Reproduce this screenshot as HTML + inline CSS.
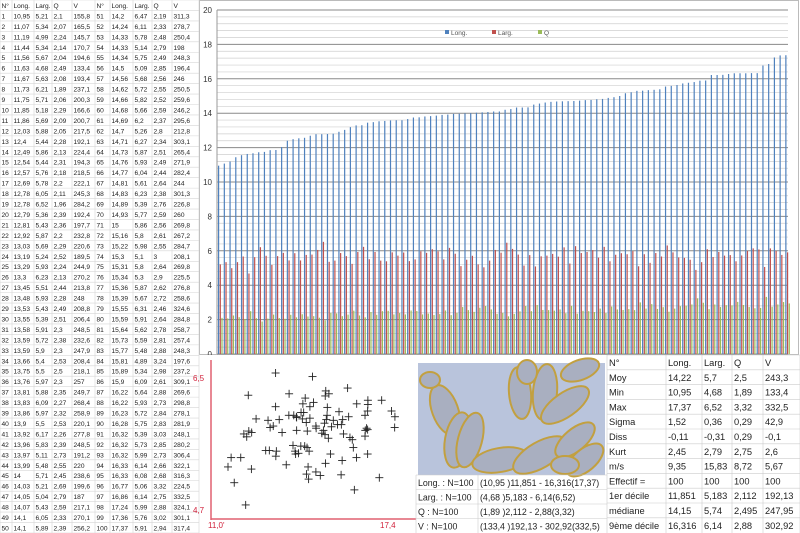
<!DOCTYPE html>
<html><head><meta charset="utf-8">
<style>
html,body{margin:0;padding:0;background:#fff;}
svg{display:block;font-family:"Liberation Sans",sans-serif;}
</style></head>
<body>
<svg id="s" width="800" height="533" viewBox="0 0 800 533" xmlns="http://www.w3.org/2000/svg"></svg>
<script>
const D=`1 10,95 5,21 2,1 155,8|2 11,07 5,34 2,07 165,5|3 11,19 4,99 2,24 145,7|4 11,44 5,34 2,14 170,7|5 11,56 5,67 2,04 194,6|6 11,63 4,68 2,49 133,4|7 11,67 5,63 2,08 193,4|8 11,73 6,21 1,89 237,1|9 11,75 5,71 2,06 200,3|10 11,85 5,18 2,29 166,6|11 11,86 5,69 2,09 200,7|12 12,03 5,88 2,05 217,5|13 12,4 5,44 2,28 192,1|14 12,49 5,86 2,13 224,4|15 12,54 5,44 2,31 194,3|16 12,57 5,76 2,18 218,5|17 12,69 5,78 2,2 222,1|18 12,78 6,05 2,11 245,3|19 12,78 6,52 1,96 284,2|20 12,79 5,36 2,39 192,4|21 12,81 5,43 2,36 197,7|22 12,92 5,87 2,2 232,8|23 13,03 5,69 2,29 220,6|24 13,19 5,24 2,52 189,5|25 13,29 5,93 2,24 244,9|26 13,3 6,23 2,13 270,2|27 13,45 5,51 2,44 213,8|28 13,48 5,93 2,28 248|29 13,53 5,43 2,49 208,8|30 13,55 5,39 2,51 206,4|31 13,58 5,91 2,3 248,5|32 13,59 5,72 2,38 232,6|33 13,59 5,9 2,3 247,9|34 13,66 5,4 2,53 208,4|35 13,75 5,5 2,5 218,1|36 13,76 5,97 2,3 257|37 13,81 5,88 2,35 249,7|38 13,83 6,09 2,27 268,4|39 13,86 5,97 2,32 258,9|40 13,9 5,5 2,53 220,1|41 13,92 6,17 2,26 277,8|42 13,96 5,83 2,39 248,5|43 13,97 5,11 2,73 191,2|44 13,99 5,48 2,55 220|45 14 5,71 2,45 238,6|46 14,03 5,21 2,69 199,6|47 14,05 5,04 2,79 187|48 14,07 5,43 2,59 217,1|49 14,1 6,05 2,33 270,1|50 14,1 5,89 2,39 256,2|51 14,2 6,47 2,19 311,3|52 14,24 6,11 2,33 278,7|53 14,33 5,78 2,48 250,4|54 14,33 5,14 2,79 198|55 14,34 5,75 2,49 248,3|56 14,5 5,09 2,85 196,4|57 14,56 5,68 2,56 246|58 14,62 5,72 2,55 250,5|59 14,66 5,82 2,52 259,6|60 14,68 5,66 2,59 246,2|61 14,69 6,2 2,37 295,6|62 14,7 5,26 2,8 212,8|63 14,71 6,27 2,34 303,1|64 14,73 5,87 2,51 265,4|65 14,76 5,93 2,49 271,9|66 14,77 6,04 2,44 282,4|67 14,81 5,61 2,64 244|68 14,83 6,23 2,38 301,3|69 14,89 5,39 2,76 226,8|70 14,93 5,77 2,59 260|71 15 5,86 2,56 269,8|72 15,16 5,8 2,61 267,2|73 15,22 5,98 2,55 284,7|74 15,3 5,1 3 208,1|75 15,31 5,8 2,64 269,8|76 15,34 5,3 2,9 225,5|77 15,36 5,87 2,62 276,8|78 15,39 5,67 2,72 258,6|79 15,55 6,31 2,46 324,6|80 15,59 5,91 2,64 284,8|81 15,64 5,62 2,78 258,7|82 15,73 5,59 2,81 257,4|83 15,77 5,48 2,88 248,3|84 15,81 4,89 3,24 197,6|85 15,89 5,34 2,98 237,2|86 15,9 6,09 2,61 309,1|87 16,22 5,64 2,88 269,6|88 16,22 5,93 2,73 298,8|89 16,23 5,72 2,84 278,1|90 16,28 5,75 2,83 281,9|91 16,32 5,39 3,03 248,1|92 16,32 5,73 2,85 280,2|93 16,32 5,99 2,73 306,4|94 16,33 6,14 2,66 322,1|95 16,33 6,08 2,68 316,3|96 16,77 5,06 3,32 224,5|97 16,86 6,14 2,75 332,5|98 17,24 5,99 2,88 324,1|99 17,36 5,76 3,02 301,1|100 17,37 5,91 2,94 317,4`;
const R=D.split('|').map(r=>r.split(' '));
const num=s=>parseFloat(s.replace(',','.'));
let h='';
const T=(x,y,t,sz,fill,anc)=>h+=`<text x="${x}" y="${y}" font-size="${sz}" fill="${fill||'#222'}"${anc?` text-anchor="${anc}"`:''}>${t}</text>`;
const L=(x1,y1,x2,y2,c,w)=>h+=`<line x1="${x1}" y1="${y1}" x2="${x2}" y2="${y2}" stroke="${c}" stroke-width="${w||1}"/>`;
// chart
h+=`<rect x="199.5" y="0.5" width="599" height="354" fill="#fff" stroke="#bbb"/>`;
const y0=354,k=17.2;
for(let i=0;i<=50;i++){const v=i*0.4,y=y0-v*k;const maj=Math.abs(v-Math.round(v))<1e-6&&Math.round(v)%2==0;L(217,y,788,y,maj?'#8a8a8a':'#cfcfcf',maj?1:0.7);}
for(let v=0;v<=20;v+=2)T(212,y0-v*k+3,v,8,'#333','end');
L(217,10,217,354,'#999');
R.forEach((r,i)=>{const x=218+i*5.73;
h+=`<rect x="${x}" y="${y0-num(r[1])*k}" width="1.2" height="${num(r[1])*k}" fill="#4f81bd"/>`;
h+=`<rect x="${x+1.7}" y="${y0-num(r[2])*k}" width="1.2" height="${num(r[2])*k}" fill="#c0504d"/>`;
h+=`<rect x="${x+3.4}" y="${y0-num(r[3])*k}" width="1.2" height="${num(r[3])*k}" fill="#9bbb59"/>`;});
[[451,'#4f81bd','Long.'],[498,'#c0504d','Larg.'],[544,'#9bbb59','Q']].forEach(a=>{h+=`<rect x="${a[0]-6}" y="30" width="4" height="4" fill="${a[1]}"/>`;T(a[0],35,a[2],6.5,'#555');});
// left table
const rh=533/51, cx=[0,12,34,52,72,95,110,133,152,172,199];
h+=`<rect x="0" y="0" width="199" height="533" fill="#fff"/>`;
for(let i=0;i<=51;i++)L(0,i*rh,199,i*rh,'#d6d6d6',0.6);
cx.forEach(x=>L(x,0,x,533,'#d6d6d6',0.6));
const hd=['N°','Long.','Larg.','Q','V','N°','Long.','Larg.','Q','V'];
hd.forEach((t,j)=>T(cx[j]+1.5,rh-2.5,t,6.6));
for(let i=0;i<50;i++){const a=R[i],b=R[i+50],row=a.concat(b);row.forEach((t,j)=>T(cx[j]+1.5,(i+2)*rh-2.5,t,6.6));}
// scatter
h+=`<rect x="200" y="355" width="216" height="178" fill="#fff"/>`;
L(211,360,211,520,'#e06070',1.5);L(211,519,416,519,'#e06070',1.5);
T(193,381,'6,5',8,'#d0203a');T(193,513,'4,7',8,'#d0203a');T(208,528,'11,0\'',8,'#d0203a');T(380,528,'17,4',8,'#d0203a');
R.forEach(r=>{const x=228+(num(r[1])-10.95)*26,y=373+(6.52-num(r[2]))*71.7;L(x-4,y,x+4,y,'#222',0.9);L(x,y-4,x,y+4,'#222',0.9);});
// photo
h+=`<rect x="416" y="355" width="191" height="120" fill="#fff"/><rect x="418" y="363" width="187" height="112" fill="#b9c4dc"/>`;
[[445,410,13,26,-20],[458,440,13,28,10],[470,440,12,28,15],[500,460,28,12,-10],[520,393,11,26,-5],[545,392,12,28,5],[565,405,28,12,-35],[540,455,30,13,-30],[580,370,20,10,-20],[575,440,24,11,-40],[585,460,22,11,-40],[565,465,14,9,0],[527,372,10,12,0],[430,380,10,8,0]].forEach(e=>h+=`<ellipse cx="${e[0]}" cy="${e[1]}" rx="${e[2]}" ry="${e[3]}" transform="rotate(${e[4]} ${e[0]} ${e[1]})" fill="#a9afc0" stroke="#c2a040" stroke-width="2"/>`);
// stats tables
const sx=[607,666,702,732,763,800],srh=14.8;
const S=[['N°','Long.','Larg.','Q','V'],['Moy','14,22','5,7','2,5','243,3'],['Min','10,95','4,68','1,89','133,4'],['Max','17,37','6,52','3,32','332,5'],['Sigma','1,52','0,36','0,29','42,9'],['Diss','-0,11','-0,31','0,29','-0,1'],['Kurt','2,45','2,79','2,75','2,6'],['m/s','9,35','15,83','8,72','5,67'],['Effectif =','100','100','100','100'],['1er décile','11,851','5,183','2,112','192,13'],['médiane','14,15','5,74','2,495','247,95'],['9ème décile','16,316','6,14','2,88','302,92']];
h+=`<rect x="607" y="355" width="193" height="178" fill="#fff"/>`;
S.forEach((r,i)=>{const y=355+i*srh;L(607,y,800,y,'#ccc',0.6);r.forEach((t,j)=>T(sx[j]+2,y+11,t,9.3,'#222'));});
sx.forEach(x=>L(x,355,x,533,'#ccc',0.6));
const B=[['Long. : N=100','(10,95 )11,851 - 16,316(17,37)'],['Larg. : N=100','(4,68 )5,183 - 6,14(6,52)'],['Q : N=100','(1,89 )2,112 - 2,88(3,32)'],['V : N=100','(133,4 )192,13 - 302,92(332,5)']];
B.forEach((r,i)=>{const y=475+i*14.5;L(416,y,607,y,'#ccc',0.6);T(418,y+11,r[0],8.8);T(480,y+11,r[1],8.8);});
L(478,475,478,533,'#ccc',0.6);L(416,475,416,533,'#ccc',0.6);
document.getElementById('s').innerHTML=h;
</script>
</body></html>
